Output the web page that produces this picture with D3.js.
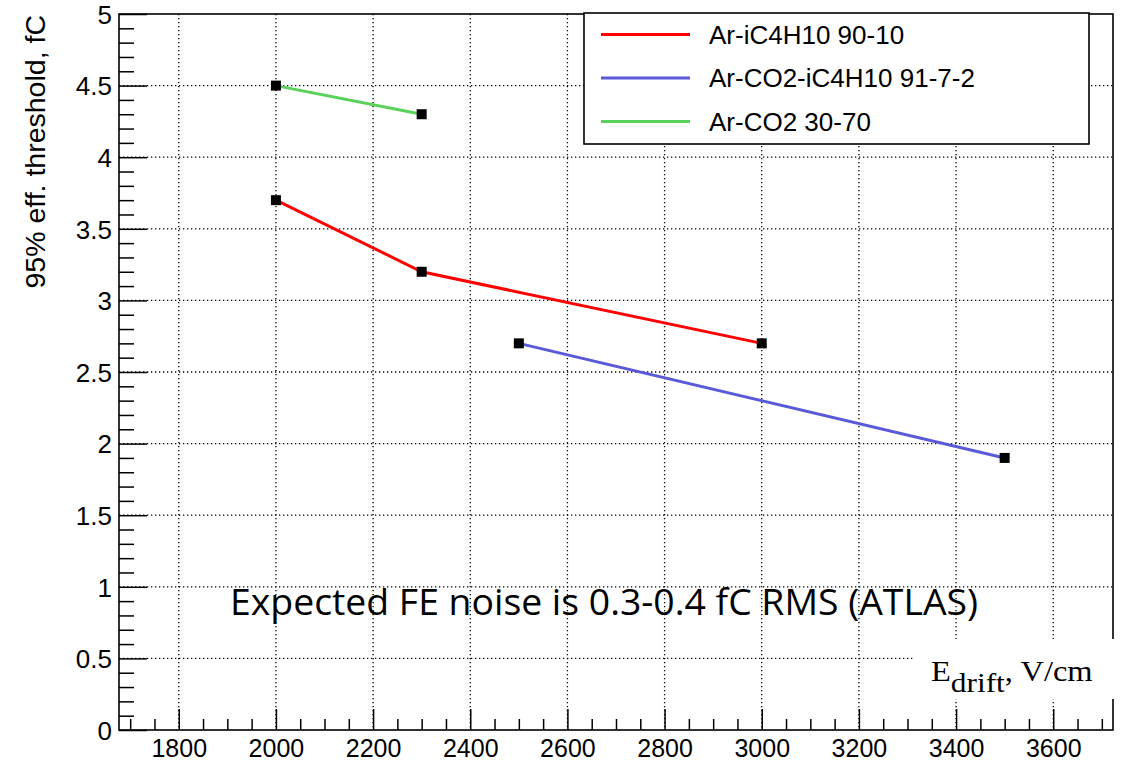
<!DOCTYPE html>
<html>
<head>
<meta charset="utf-8">
<script src="https://cdn.jsdelivr.net/npm/d3@7"></script>
<style>
  body { margin: 0; background: #fff; }
  svg { display: block; }
</style>
</head>
<body>
<div id="chart"></div>
<script>
// Series data
var seriesNames = ["Ar-iC4H10 90-10", "Ar-CO2-iC4H10 91-7-2", "Ar-CO2 30-70"];
var seriesColors = ["#ff0000", "#5a5ad8", "#5ad25a"];
var redField = [2000, 2300, 3000];
var redThreshold = [3.7, 3.2, 2.7];
var blueField = [2500, 3500];
var blueThreshold = [2.7, 1.9];
var greenField = [2000, 2300];
var greenThreshold = [4.5, 4.3];

// Axis ticks
var xMajorTicks = [1800, 2000, 2200, 2400, 2600, 2800, 3000, 3200, 3400, 3600];
var yMajorTicks = [0, 0.5, 1, 1.5, 2, 2.5, 3, 3.5, 4, 4.5, 5];
var yTickLabels = ["0", "0.5", "1", "1.5", "2", "2.5", "3", "3.5", "4", "4.5", "5"];

function init() {
    var w = 1127, h = 764;
    var left = 119, right = 1113, top = 14, bottom = 730;

    var svg = d3.select("#chart").append("svg")
        .attr("width", w)
        .attr("height", h);

    var x = d3.scaleLinear().domain([1677, 3723]).range([left, right]);
    var y = d3.scaleLinear().domain([0, 5]).range([bottom, top]);

    var series = [
        { xs: redField, ys: redThreshold },
        { xs: blueField, ys: blueThreshold },
        { xs: greenField, ys: greenThreshold }
    ];

    // dotted grid
    var grid = svg.append("g")
        .attr("stroke", "#000")
        .attr("stroke-width", 1.3)
        .attr("stroke-dasharray", "1.3,2.7");
    grid.selectAll(".gx")
        .data(xMajorTicks)
        .enter().append("line")
        .attr("x1", function(d) { return x(d); })
        .attr("x2", function(d) { return x(d); })
        .attr("y1", top)
        .attr("y2", bottom);
    grid.selectAll(".gy")
        .data(yMajorTicks.slice(1, -1))
        .enter().append("line")
        .attr("x1", left)
        .attr("x2", right)
        .attr("y1", function(d) { return y(d); })
        .attr("y2", function(d) { return y(d); });

    // minor ticks (inward)
    var xMinor = d3.range(1700, 3701, 50).filter(function(d) { return d % 200 !== 0; });
    var yMinor = d3.range(1, 50).map(function(d) { return d / 10; })
        .filter(function(d) { return Math.round(d * 10) % 5 !== 0; });

    svg.append("g")
        .attr("transform", "translate(0," + bottom + ")")
        .call(d3.axisBottom(x).tickValues(xMinor).tickSize(-11).tickFormat(""))
        .call(function(g) { g.select(".domain").remove(); })
        .selectAll("line").attr("stroke-width", 1.5);

    svg.append("g")
        .attr("transform", "translate(" + left + ",0)")
        .call(d3.axisLeft(y).tickValues(yMinor).tickSize(-15).tickFormat(""))
        .call(function(g) { g.select(".domain").remove(); })
        .selectAll("line").attr("stroke-width", 1.5);

    // major ticks + labels
    var xAxis = svg.append("g")
        .attr("transform", "translate(0," + bottom + ")")
        .call(d3.axisBottom(x).tickValues(xMajorTicks).tickSize(-21).tickPadding(0).tickFormat(d3.format("d")));
    xAxis.select(".domain").remove();
    xAxis.selectAll("line").attr("stroke-width", 1.5);
    xAxis.selectAll("text")
        .attr("y", 27)
        .attr("dy", 0)
        .style("font-family", "'Liberation Sans', Arial, sans-serif")
        .style("font-size", "25px")
        .attr("fill", "#000");

    var yAxis = svg.append("g")
        .attr("transform", "translate(" + left + ",0)")
        .call(d3.axisLeft(y).tickValues(yMajorTicks).tickSize(-28).tickPadding(0)
            .tickFormat(function(d, i) { return yTickLabels[i]; }));
    yAxis.select(".domain").remove();
    yAxis.selectAll("line").attr("stroke-width", 1.5);
    yAxis.selectAll("text")
        .attr("x", -7)
        .attr("dy", "0.36em")
        .style("font-family", "'Liberation Sans', Arial, sans-serif")
        .style("font-size", "26px")
        .attr("fill", "#000");

    // frame
    svg.append("rect")
        .attr("x", left)
        .attr("y", top)
        .attr("width", right - left)
        .attr("height", bottom - top)
        .attr("fill", "none")
        .attr("stroke", "#000")
        .attr("stroke-width", 1.6);

    // y title
    svg.append("text")
        .attr("transform", "translate(45,15) rotate(-90)")
        .attr("text-anchor", "end")
        .style("font-family", "'Liberation Sans', Arial, sans-serif")
        .style("font-size", "28.5px")
        .text("95% eff. threshold, fC");

    // lines
    var line = d3.line()
        .x(function(d) { return x(d[0]); })
        .y(function(d) { return y(d[1]); });

    series.forEach(function(s, i) {
        var pts = d3.zip(s.xs, s.ys);
        svg.append("path")
            .datum(pts)
            .attr("d", line)
            .attr("fill", "none")
            .attr("stroke", seriesColors[i])
            .attr("stroke-width", 3);
        svg.selectAll(".m" + i)
            .data(pts)
            .enter().append("rect")
            .attr("x", function(d) { return x(d[0]) - 5; })
            .attr("y", function(d) { return y(d[1]) - 5; })
            .attr("width", 10)
            .attr("height", 10)
            .attr("fill", "#000");
    });

    // legend
    var lg = svg.append("g");
    lg.append("rect")
        .attr("x", 584)
        .attr("y", 13)
        .attr("width", 505)
        .attr("height", 131)
        .attr("fill", "#fff")
        .attr("stroke", "#000")
        .attr("stroke-width", 1.6);
    var rows = lg.selectAll(".row")
        .data(seriesNames)
        .enter().append("g")
        .attr("transform", function(d, i) { return "translate(0," + (34.5 + i * 43.5) + ")"; });
    rows.append("line")
        .attr("x1", 601)
        .attr("x2", 690)
        .attr("stroke", function(d, i) { return seriesColors[i]; })
        .attr("stroke-width", 3);
    rows.append("text")
        .attr("x", 709)
        .attr("dy", "0.36em")
        .style("font-family", "'Liberation Sans', Arial, sans-serif")
        .style("font-size", "26px")
        .text(function(d) { return d; });

    // annotation
    svg.append("text")
        .attr("x", 230)
        .attr("y", 615)
        .attr("textLength", 748)
        .attr("lengthAdjust", "spacingAndGlyphs")
        .style("font-family", "'Open Sans', sans-serif")
        .style("font-size", "37px")
        .text("Expected FE noise is 0.3-0.4 fC RMS (ATLAS)");

    // x title box
    svg.append("rect")
        .attr("x", 913)
        .attr("y", 639)
        .attr("width", 205)
        .attr("height", 60)
        .attr("fill", "#fff");
    var xt = svg.append("text")
        .attr("transform", "translate(931,681) scale(1.12,1)")
        .style("font-family", "'Liberation Serif', 'Times New Roman', serif")
        .style("font-size", "29px");
    xt.append("tspan").text("E");
    xt.append("tspan").attr("dy", 11).style("font-size", "28px").text("drift");
    xt.append("tspan").attr("dy", -11).text(", V/cm");
}

window.onload = init;
</script>
</body>
</html>
